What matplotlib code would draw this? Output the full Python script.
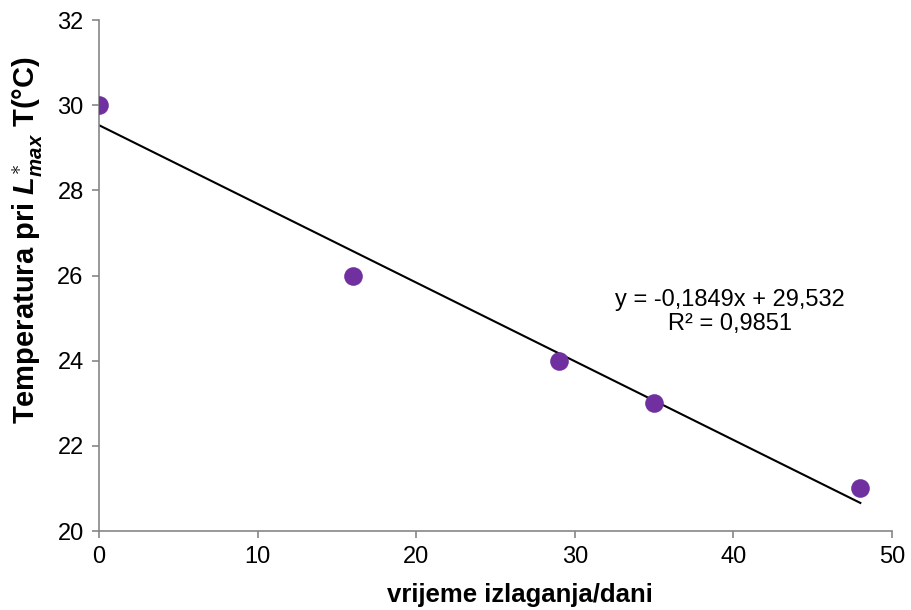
import numpy as np
import matplotlib
matplotlib.use("Agg")
import matplotlib.pyplot as plt

plt.rcParams['font.family'] = ['Liberation Sans', 'DejaVu Sans']
plt.rcParams['mathtext.fontset'] = 'custom'
plt.rcParams['mathtext.it'] = 'Liberation Sans:italic:bold'
plt.rcParams['mathtext.rm'] = 'Liberation Sans:bold'

# data
days = np.array([0, 16, 29, 35, 48])
temp = np.array([30, 26, 24, 23, 21])
xticks = [0, 10, 20, 30, 40, 50]
yticks = [20, 22, 24, 26, 28, 30, 32]

fig = plt.figure(figsize=(9.11, 6.10), dpi=100)
ax = fig.add_axes([0.1087, 0.1295, 0.8705, 0.8375])

# linear trendline
k, n = np.polyfit(days, temp, 1)
xx = np.array([days.min(), days.max()])
ax.plot(xx, k*xx + n, color="black", lw=1.5, zorder=2)
ax.scatter(days, temp, s=180, color="#7030A0", zorder=3, linewidths=0)

ax.text(39.8, 25.15, "y = -0,1849x + 29,532\nR² = 0,9851", ha="center", va="center",
        fontsize=17, linespacing=1.1)

ax.set_xlim(0, 50)
ax.set_ylim(20, 32)
ax.set_xticks(xticks)
ax.set_yticks(yticks)
for s in ["top", "right"]:
    ax.spines[s].set_visible(False)
for s in ["left", "bottom"]:
    ax.spines[s].set_color("#868686")
    ax.spines[s].set_linewidth(1.2)
ax.tick_params(direction="out", length=5, width=1.2, color="#868686", labelsize=17, pad=6)
ax.set_xlabel("vrijeme izlaganja/dani", fontsize=18.5, fontweight="bold")
ax.xaxis.set_label_coords(0.531, -0.102)
ax.set_ylabel(r"Temperatura pri $L^{\ast}_{max}$ T(°C)", fontsize=21, fontweight="bold")
ax.yaxis.set_label_coords(-0.07, 0.57)

fig.savefig("out.png", dpi=100)
